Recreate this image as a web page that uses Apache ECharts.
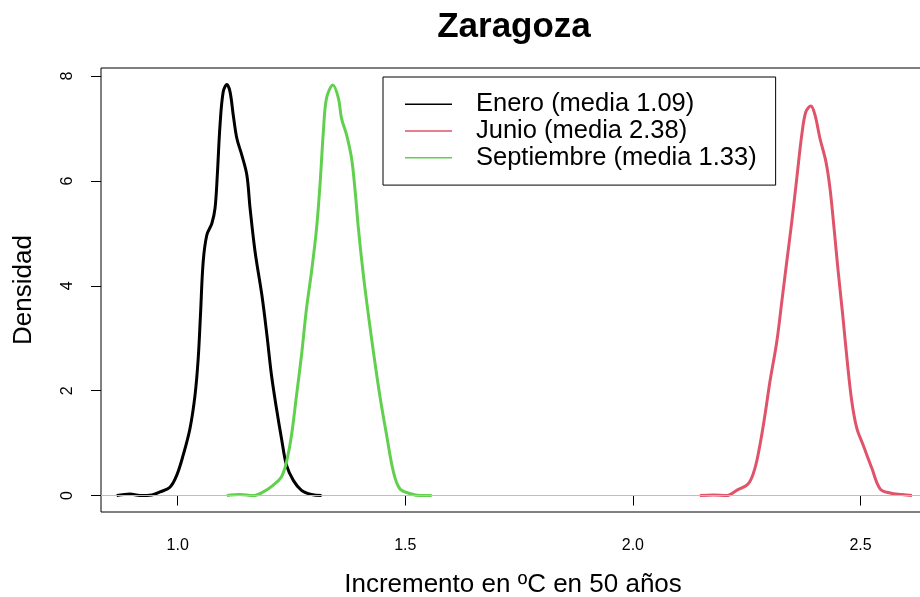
<!DOCTYPE html>
<html>
<head>
<meta charset="utf-8">
<script src="https://cdn.jsdelivr.net/npm/echarts@6/dist/echarts.min.js"></script>
<style>
  html, body { margin: 0; padding: 0; background: #ffffff; }
  #chart { width: 920px; height: 597px; }
</style>
</head>
<body>
<div id="chart"></div>
<script>
// Kernel density estimates of the warming increment (ºC in 50 years), Zaragoza
const eneroX = [0.866, 0.895, 0.917, 0.943, 0.961, 0.983, 0.998, 1.012, 1.027, 1.038, 1.045, 1.050, 1.056, 1.064, 1.075, 1.082, 1.087, 1.093, 1.100, 1.108, 1.115, 1.122, 1.130, 1.141, 1.152, 1.159, 1.170, 1.185, 1.196, 1.206, 1.217, 1.228, 1.239, 1.254, 1.272, 1.294, 1.316];
const eneroY = [0.00, 0.03, 0.00, 0.01, 0.07, 0.16, 0.39, 0.77, 1.28, 1.91, 2.61, 3.44, 4.46, 4.97, 5.19, 5.48, 6.11, 7.07, 7.70, 7.84, 7.70, 7.26, 6.81, 6.49, 6.11, 5.48, 4.65, 3.82, 3.06, 2.30, 1.66, 1.09, 0.58, 0.29, 0.10, 0.02, 0.00];

const junioX = [2.147, 2.177, 2.206, 2.228, 2.254, 2.268, 2.279, 2.290, 2.301, 2.316, 2.327, 2.338, 2.349, 2.360, 2.371, 2.380, 2.391, 2.400, 2.411, 2.424, 2.433, 2.442, 2.451, 2.461, 2.471, 2.481, 2.492, 2.506, 2.525, 2.543, 2.565, 2.591, 2.613];
const junioY = [0.00, 0.01, 0.00, 0.10, 0.23, 0.52, 0.96, 1.53, 2.17, 2.93, 3.69, 4.46, 5.22, 6.05, 6.88, 7.32, 7.43, 7.26, 6.81, 6.37, 5.86, 5.09, 4.27, 3.44, 2.55, 1.79, 1.28, 0.96, 0.52, 0.13, 0.05, 0.02, 0.00];

const septX = [1.108, 1.137, 1.166, 1.188, 1.210, 1.228, 1.239, 1.250, 1.261, 1.272, 1.283, 1.294, 1.305, 1.313, 1.320, 1.327, 1.341, 1.353, 1.360, 1.371, 1.382, 1.390, 1.397, 1.408, 1.419, 1.430, 1.444, 1.459, 1.474, 1.488, 1.510, 1.532, 1.558];
const septY = [0.00, 0.02, 0.00, 0.07, 0.20, 0.36, 0.64, 1.15, 1.91, 2.68, 3.57, 4.27, 5.09, 5.98, 6.94, 7.58, 7.83, 7.58, 7.19, 6.88, 6.43, 5.79, 5.09, 4.20, 3.44, 2.74, 1.91, 1.15, 0.45, 0.13, 0.04, 0.00, 0.00];

const seriesNames = ['Enero (media 1.09)', 'Junio (media 2.38)', 'Septiembre (media 1.33)'];
const seriesColors = ['#000000', '#DF536B', '#61D04F'];

const xTicks = [1.0, 1.5, 2.0, 2.5];
const yTicks = [0, 2, 4, 6, 8];

const pairs = (xs, ys) => xs.map((x, i) => [x, ys[i]]);
const FONT = '"Liberation Sans", Arial, Helvetica, sans-serif';

const chart = echarts.init(document.getElementById('chart'), null, { renderer: 'canvas' });

const curve = (name, color, data) => ({
  name: name,
  type: 'line',
  data: data,
  showSymbol: false,
  symbol: 'none',
  smooth: 0.35,
  z: 3,
  lineStyle: { color: color, width: 3 },
  itemStyle: { color: color },
  emphasis: { disabled: true }
});

chart.setOption({
  animation: false,
  backgroundColor: '#ffffff',
  title: {
    text: 'Zaragoza',
    left: 509,
    top: 5,
    textAlign: 'center',
    textStyle: { fontFamily: FONT, fontWeight: 'bold', fontSize: 35, color: '#000000' }
  },
  grid: {
    left: 101, top: 68, width: 824, height: 444,
    outerBoundsMode: 'none',
    containLabel: false,
    show: true, borderColor: '#000000', borderWidth: 1, backgroundColor: 'transparent'
  },
  legend: {
    data: seriesNames,
    orient: 'vertical',
    left: 383,
    top: 77,
    padding: [14, 19, 14, 22],
    itemGap: 0,
    itemWidth: 47,
    itemHeight: 1.5,
    icon: 'rect',
    borderColor: '#000000',
    borderWidth: 1,
    backgroundColor: '#ffffff',
    selectedMode: false,
    textStyle: {
      fontFamily: FONT, fontSize: 25.5, color: '#000000',
      lineHeight: 26.7, padding: [0, 0, 0, 19]
    }
  },
  xAxis: {
    type: 'value',
    min: 0.8315,
    max: 2.6417,
    name: 'Incremento en ºC en 50 años',
    nameLocation: 'middle',
    nameGap: 60,
    nameTextStyle: { fontFamily: FONT, fontSize: 26, color: '#000000' },
    splitLine: { show: false },
    axisLine: { show: false },
    axisTick: { show: true, length: 10, inside: false, customValues: xTicks, lineStyle: { color: '#000000' } },
    axisLabel: {
      customValues: xTicks, margin: 26, fontFamily: FONT, fontSize: 16, color: '#000000',
      formatter: v => v.toFixed(1)
    }
  },
  yAxis: {
    type: 'value',
    min: -0.313,
    max: 8.155,
    name: 'Densidad',
    nameLocation: 'middle',
    nameGap: 64,
    nameTextStyle: { fontFamily: FONT, fontSize: 26, color: '#000000' },
    splitLine: { show: false },
    axisLine: { show: false },
    axisTick: { show: true, length: 10, inside: false, customValues: yTicks, lineStyle: { color: '#000000' } },
    axisLabel: {
      customValues: yTicks, margin: 25, rotate: 90, fontFamily: FONT, fontSize: 16, color: '#000000',
      formatter: v => String(v)
    }
  },
  series: [
    {
      name: 'zero',
      type: 'line',
      data: [],
      z: 1,
      silent: true,
      markLine: {
        silent: true,
        symbol: ['none', 'none'],
        label: { show: false },
        lineStyle: { color: '#BEBEBE', width: 1, type: 'solid' },
        data: [{ yAxis: 0 }]
      }
    },
    curve(seriesNames[0], seriesColors[0], pairs(eneroX, eneroY)),
    curve(seriesNames[1], seriesColors[1], pairs(junioX, junioY)),
    curve(seriesNames[2], seriesColors[2], pairs(septX, septY))
  ]
});
</script>
</body>
</html>
